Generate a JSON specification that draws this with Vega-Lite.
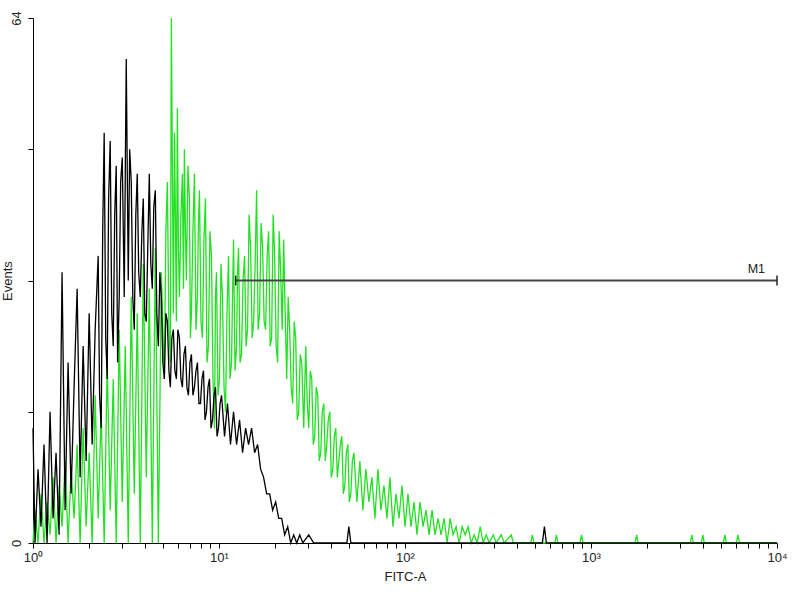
{
  "$schema": "https://vega.github.io/schema/vega-lite/v6.json",
  "width": 744,
  "height": 525,
  "autosize": {"type": "none"},
  "padding": {"left": 33, "top": 18, "right": 23, "bottom": 57},
  "background": "white",
  "config": {
    "view": {"stroke": null},
    "font": "Liberation Sans",
    "axis": {
      "grid": false,
      "domainColor": "#000",
      "tickColor": "#000",
      "labelColor": "#222",
      "titleColor": "#222",
      "labelFont": "Liberation Sans",
      "titleFont": "Liberation Sans",
      "labelFontSize": 13,
      "titleFontSize": 13,
      "titleFontWeight": "normal",
      "zindex": 1
    }
  },
  "datasets": {
    "green": [
      {"x":1.0,"y":0},{"x":1.025,"y":4},{"x":1.064,"y":0},{"x":1.104,"y":6},{"x":1.146,"y":0},{"x":1.190,"y":5},{"x":1.235,"y":1},{"x":1.282,"y":8},{"x":1.330,"y":0},{"x":1.381,"y":7},{"x":1.433,"y":2},{"x":1.488,"y":10},{"x":1.544,"y":0},{"x":1.603,"y":9},{"x":1.663,"y":3},{"x":1.727,"y":12},{"x":1.792,"y":0},{"x":1.860,"y":14},{"x":1.931,"y":2},{"x":2.004,"y":11},{"x":2.080,"y":0},{"x":2.159,"y":18},{"x":2.241,"y":3},{"x":2.326,"y":16},{"x":2.414,"y":0},{"x":2.506,"y":22},{"x":2.601,"y":4},{"x":2.700,"y":20},{"x":2.802,"y":0},{"x":2.908,"y":26},{"x":3.019,"y":5},{"x":3.133,"y":24},{"x":3.252,"y":0},{"x":3.375,"y":30},{"x":3.503,"y":6},{"x":3.636,"y":28},{"x":3.774,"y":0},{"x":3.917,"y":34},{"x":4.066,"y":8},{"x":4.220,"y":31},{"x":4.380,"y":0},{"x":4.546,"y":36},{"x":4.719,"y":0},{"x":4.898,"y":33},
      {"x":5.084,"y":20},{"x":5.18,"y":38},{"x":5.277,"y":44},{"x":5.38,"y":26},{"x":5.477,"y":22},{"x":5.545,"y":64},{"x":5.685,"y":28},{"x":5.76,"y":50},{"x":5.830,"y":40},{"x":5.90,"y":27},{"x":5.973,"y":53},{"x":6.05,"y":36},{"x":6.125,"y":30},{"x":6.24,"y":40},{"x":6.357,"y":45},{"x":6.44,"y":31},{"x":6.516,"y":48},{"x":6.60,"y":38},{"x":6.681,"y":32},{"x":6.81,"y":46},{"x":6.934,"y":42},{"x":7.02,"y":25},{"x":7.109,"y":28},{"x":7.24,"y":38},{"x":7.378,"y":45},{"x":7.52,"y":26},{"x":7.658,"y":30},{"x":7.75,"y":39},{"x":7.851,"y":43},{"x":8.00,"y":27},{"x":8.150,"y":25},{"x":8.30,"y":37},{"x":8.457,"y":42},{"x":8.62,"y":22},{"x":8.778,"y":24},{"x":8.94,"y":38},{"x":9.112,"y":35},{"x":9.28,"y":20},{"x":9.456,"y":14},{"x":9.57,"y":30},{"x":9.694,"y":33},{"x":9.88,"y":18},{"x":10.06,"y":20},{"x":10.25,"y":34},{"x":10.44,"y":30},{"x":10.64,"y":19},{"x":10.84,"y":16},{"x":11.04,"y":28},{"x":11.25,"y":35},{"x":11.46,"y":20},{"x":11.68,"y":22},{"x":11.82,"y":30},{"x":11.97,"y":37},{"x":12.2,"y":21},{"x":12.43,"y":24},{"x":12.58,"y":33},{"x":12.74,"y":36},{"x":12.98,"y":22},{"x":13.22,"y":23},{"x":13.47,"y":32},{"x":13.73,"y":35},{"x":13.98,"y":24},{"x":14.24,"y":26},{"x":14.51,"y":40},{"x":14.79,"y":36},{"x":15.07,"y":25},{"x":15.35,"y":27},{"x":15.64,"y":34},{"x":15.93,"y":43},{"x":16.23,"y":26},{"x":16.53,"y":28},{"x":16.84,"y":39},{"x":17.16,"y":36},{"x":17.48,"y":27},{"x":17.81,"y":26},{"x":18.15,"y":35},{"x":18.49,"y":38},{"x":18.84,"y":24},{"x":19.19,"y":25},{"x":19.55,"y":40},{"x":19.92,"y":35},{"x":20.29,"y":24},{"x":20.67,"y":22},{"x":21.06,"y":38},{"x":21.46,"y":33},{"x":21.86,"y":26},{"x":22.27,"y":37},{"x":22.69,"y":28},{"x":23.12,"y":20},{"x":23.55,"y":30},{"x":23.99,"y":26},{"x":24.44,"y":19},{"x":24.90,"y":17},{"x":25.37,"y":27},{"x":25.85,"y":25},{"x":26.34,"y":15},{"x":26.83,"y":16},{"x":27.34,"y":23},{"x":27.85,"y":22},{"x":28.55,"y":14},{"x":29.27,"y":24},{"x":29.82,"y":17},{"x":30.38,"y":14},{"x":30.95,"y":21},{"x":31.53,"y":20},{"x":32.12,"y":12},{"x":32.72,"y":13},{"x":33.33,"y":19},{"x":33.96,"y":18},{"x":34.60,"y":10},{"x":35.25,"y":11},{"x":35.91,"y":16},{"x":36.59,"y":17},{"x":37.27,"y":10},{"x":37.97,"y":12},{"x":38.68,"y":15},{"x":39.41,"y":16},{"x":40.15,"y":8},{"x":40.91,"y":9},{"x":41.68,"y":13},{"x":42.46,"y":14},{"x":43.26,"y":8},{"x":44.08,"y":10},{"x":44.91,"y":12},{"x":45.75,"y":13},{"x":46.61,"y":6},{"x":47.48,"y":7},{"x":48.37,"y":11},{"x":49.28,"y":12},{"x":50.21,"y":5},{"x":51.16,"y":6},{"x":52.12,"y":10},
      {"x":53.10,"y":11},{"x":55.11,"y":5},{"x":57.20,"y":10},{"x":59.37,"y":4},{"x":61.63,"y":9},{"x":63.95,"y":5},{"x":66.38,"y":8},{"x":68.90,"y":3},{"x":71.51,"y":9},{"x":74.22,"y":4},{"x":77.04,"y":7},{"x":79.98,"y":3},{"x":83.00,"y":8},{"x":86.15,"y":2},{"x":89.43,"y":6},{"x":92.82,"y":3},{"x":96.34,"y":7},{"x":100,"y":2},{"x":103.8,"y":6},{"x":107.7,"y":2},{"x":111.8,"y":5},{"x":116.0,"y":1},{"x":120.5,"y":5},{"x":125.0,"y":2},{"x":129.8,"y":4},{"x":134.7,"y":1},{"x":139.8,"y":4},{"x":145.1,"y":1},{"x":150.6,"y":3},{"x":156.3,"y":1},{"x":162.3,"y":3},{"x":168.4,"y":0},{"x":174.8,"y":3},{"x":181.4,"y":1},{"x":188.3,"y":2},{"x":195.5,"y":0},{"x":202.9,"y":2},{"x":210.6,"y":1},{"x":218.6,"y":2},{"x":226.9,"y":0},{"x":235.5,"y":1},{"x":244.4,"y":0},{"x":253.7,"y":2},{"x":263.3,"y":0},{"x":273.3,"y":1},{"x":283.7,"y":0},{"x":298.2,"y":1},{"x":309.5,"y":0},{"x":329.3,"y":1},{"x":341.7,"y":0},{"x":372.8,"y":1},{"x":382.1,"y":0},
      {"x":475,"y":0},{"x":483.7,"y":1},{"x":493,"y":0},{"x":640,"y":0},{"x":651.6,"y":1},{"x":663,"y":0},{"x":872,"y":0},{"x":888.9,"y":1},{"x":906,"y":0},{"x":1726,"y":0},{"x":1759,"y":1},{"x":1792,"y":0},{"x":3417,"y":0},{"x":3482,"y":1},{"x":3548,"y":0},{"x":3917,"y":0},{"x":3992,"y":1},{"x":4068,"y":0},{"x":5146,"y":0},{"x":5244,"y":1},{"x":5343,"y":0},{"x":6049,"y":0},{"x":6164,"y":1},{"x":6281,"y":0},{"x":10000,"y":0}
    ],
    "black": [
      {"x":1.0,"y":14},{"x":1.025,"y":0},{"x":1.064,"y":9},{"x":1.104,"y":2},{"x":1.146,"y":12},{"x":1.190,"y":0},{"x":1.235,"y":16},{"x":1.282,"y":3},{"x":1.330,"y":11},{"x":1.381,"y":1},{"x":1.433,"y":33},{"x":1.488,"y":4},{"x":1.544,"y":22},{"x":1.603,"y":6},{"x":1.663,"y":19},{"x":1.727,"y":31},{"x":1.792,"y":8},{"x":1.860,"y":24},{"x":1.931,"y":10},{"x":2.004,"y":28},{"x":2.080,"y":12},{"x":2.159,"y":26},
      {"x":2.241,"y":35},{"x":2.28,"y":18},{"x":2.326,"y":14},{"x":2.37,"y":38},{"x":2.414,"y":50},{"x":2.46,"y":25},{"x":2.506,"y":20},{"x":2.55,"y":42},{"x":2.601,"y":49},{"x":2.65,"y":28},{"x":2.700,"y":24},{"x":2.75,"y":40},{"x":2.802,"y":46},{"x":2.85,"y":22},{"x":2.908,"y":30},{"x":2.96,"y":44},{"x":3.019,"y":47},{"x":3.094,"y":30},{"x":3.172,"y":59},{"x":3.252,"y":32},{"x":3.31,"y":48},{"x":3.375,"y":44},{"x":3.44,"y":30},{"x":3.503,"y":26},{"x":3.57,"y":40},{"x":3.636,"y":45},{"x":3.70,"y":33},{"x":3.774,"y":30},{"x":3.85,"y":38},{"x":3.917,"y":42},{"x":3.99,"y":28},{"x":4.066,"y":27},{"x":4.14,"y":36},{"x":4.220,"y":45},{"x":4.30,"y":34},{"x":4.380,"y":31},{"x":4.46,"y":41},{"x":4.546,"y":43},{"x":4.63,"y":28},{"x":4.719,"y":24},{"x":4.81,"y":33},{"x":4.898,"y":30},{"x":4.99,"y":22},{"x":5.084,"y":20},{"x":5.18,"y":28},{"x":5.277,"y":27},{"x":5.38,"y":21},{"x":5.477,"y":19},{"x":5.58,"y":25},{"x":5.685,"y":26},{"x":5.79,"y":21},{"x":5.901,"y":20},{"x":6.01,"y":26},{"x":6.125,"y":25},{"x":6.24,"y":20},{"x":6.357,"y":19},{"x":6.48,"y":23},{"x":6.598,"y":24},{"x":6.72,"y":19},{"x":6.849,"y":18},{"x":6.98,"y":22},{"x":7.109,"y":23},{"x":7.24,"y":18},{"x":7.378,"y":19},{"x":7.52,"y":21},{"x":7.658,"y":22},{"x":7.80,"y":17},{"x":7.949,"y":17},{"x":8.10,"y":20},{"x":8.251,"y":21},{"x":8.41,"y":15},{"x":8.564,"y":16},{"x":8.73,"y":19},{"x":8.889,"y":20},{"x":9.06,"y":14},{"x":9.226,"y":15},{"x":9.40,"y":18},{"x":9.575,"y":19},{"x":9.76,"y":13},{"x":9.938,"y":14},{"x":10.13,"y":17},
      {"x":10.32,"y":18},{"x":10.71,"y":13},{"x":11.11,"y":17},{"x":11.53,"y":12},{"x":11.97,"y":16},{"x":12.43,"y":12},{"x":12.90,"y":15},{"x":13.39,"y":11},{"x":13.90,"y":14},{"x":14.42,"y":12},{"x":14.97,"y":14},{"x":15.54,"y":11},{"x":16.13,"y":12},{"x":16.74,"y":9},{"x":17.37,"y":8},{"x":18.04,"y":6},{"x":18.72,"y":6},{"x":19.43,"y":4},{"x":20.17,"y":5},{"x":20.94,"y":3},{"x":21.73,"y":3},{"x":22.55,"y":1},{"x":23.41,"y":2},{"x":24.30,"y":0},{"x":25.22,"y":1},{"x":26.18,"y":0},{"x":27.17,"y":1},{"x":28.20,"y":0},{"x":30.38,"y":1},{"x":32.32,"y":0},{"x":48.68,"y":0},{"x":49.90,"y":2},{"x":51.16,"y":0},{"x":547.7,"y":0},{"x":561.6,"y":2},{"x":575.6,"y":0},{"x":10000,"y":0}
    ],
    "m1": [{"x1": 12.3, "x2": 10000, "y": 32, "label": "M1"}],
    "m1ends": [{"x": 12.3, "ylo": 31.4, "yhi": 32.6}, {"x": 10000, "ylo": 31.4, "yhi": 32.6}]
  },
  "layer": [
    {
      "data": {"name": "green"},
      "mark": {"type": "line", "color": "#22e022", "strokeWidth": 1.3},
      "encoding": {
        "x": {
          "field": "x", "type": "quantitative",
          "scale": {"type": "log", "domain": [1, 10000]},
          "axis": {
            "title": "FITC-A",
            "values": [1,2,3,4,5,6,7,8,9,10,20,30,40,50,60,70,80,90,100,200,300,400,500,600,700,800,900,1000,2000,3000,4000,5000,6000,7000,8000,9000,10000],
            "labelExpr": "datum.value == 1 ? '10⁰' : datum.value == 10 ? '10¹' : datum.value == 100 ? '10²' : datum.value == 1000 ? '10³' : datum.value == 10000 ? '10⁴' : ''",
            "labelOverlap": false,
            "labelFlush": false,
            "labelBound": false,
            "tickSize": 5,
            "labelPadding": 3,
            "titlePadding": 6
          }
        },
        "y": {
          "field": "y", "type": "quantitative",
          "scale": {"domain": [0, 64], "nice": false},
          "axis": {
            "title": "Events",
            "titleX": -19,
            "titleY": 262.5,
            "titleAngle": 270,
            "titleAlign": "center",
            "titleBaseline": "bottom",
            "values": [0, 16, 32, 48, 64],
            "labelExpr": "datum.value == 0 || datum.value == 64 ? datum.label : ''",
            "labelAngle": 270,
            "tickSize": 5,
            "labelPadding": 5
          }
        }
      }
    },
    {
      "data": {"name": "black"},
      "mark": {"type": "line", "color": "#000000", "strokeWidth": 1.3},
      "encoding": {
        "x": {"field": "x", "type": "quantitative"},
        "y": {"field": "y", "type": "quantitative"}
      }
    },
    {
      "data": {"name": "m1"},
      "mark": {"type": "rule", "color": "#444444", "strokeWidth": 2},
      "encoding": {
        "x": {"field": "x1", "type": "quantitative"},
        "x2": {"field": "x2"},
        "y": {"field": "y", "type": "quantitative"}
      }
    },
    {
      "data": {"name": "m1ends"},
      "mark": {"type": "rule", "color": "#222222", "strokeWidth": 1.5},
      "encoding": {
        "x": {"field": "x", "type": "quantitative"},
        "y": {"field": "ylo", "type": "quantitative"},
        "y2": {"field": "yhi"}
      }
    },
    {
      "data": {"name": "m1"},
      "mark": {"type": "text", "align": "right", "baseline": "alphabetic", "dx": -12, "dy": -8, "fontSize": 12.5, "font": "Liberation Sans", "color": "#222"},
      "encoding": {
        "x": {"field": "x2", "type": "quantitative"},
        "y": {"field": "y", "type": "quantitative"},
        "text": {"field": "label"}
      }
    }
  ]
}
